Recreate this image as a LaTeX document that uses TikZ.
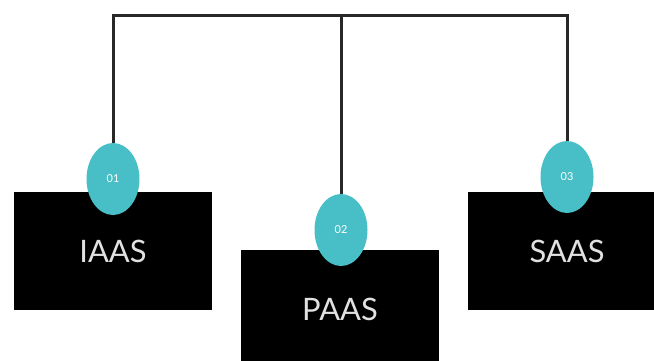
\documentclass[tikz,border=0pt]{standalone}
\usepackage{fontspec}
\setmainfont{Lato}
\usepackage{xcolor}
\usepackage{tikz}
\usetikzlibrary{shapes.geometric}
\definecolor{mlteal}{RGB}{72, 190, 198}
\definecolor{mlline}{RGB}{40, 40, 40}
\definecolor{mltext}{RGB}{225, 225, 225}

\begin{document}
\begin{tikzpicture}[x=1bp, y=-1bp,
  box/.style={fill=black, minimum width=198bp, minimum height=118bp, inner sep=0pt,
    text=mltext, font=\fontsize{31}{34}\selectfont},
  badge/.style={ellipse, fill=mlteal, minimum width=53bp, minimum height=72bp, inner sep=0pt,
    text=white, font=\fontsize{11}{12}\selectfont},
  link/.style={draw=mlline, line width=3bp}]
\useasboundingbox (0,0) rectangle (654,360);
\clip (0,0) rectangle (654,360);

% Boxes
\node[box] (iaas) at (113,251) {IAAS};
\node[box] (paas) at (340,309) {PAAS};
\node[box] (saas) at (567,251) {SAAS};

% Badges
\node[badge] (n1) at (113,179) {01};
\node[badge] (n2) at (341,230) {02};
\node[badge] (n3) at (567,177) {03};

% Top bar
\coordinate (t1) at (113,15);
\coordinate (t3) at (567,15);
\draw[link] (n1) -- (t1) -- (t3) -- (n3);
\draw[link] (n2) -- (n2 |- t1);
\end{tikzpicture}
\end{document}
